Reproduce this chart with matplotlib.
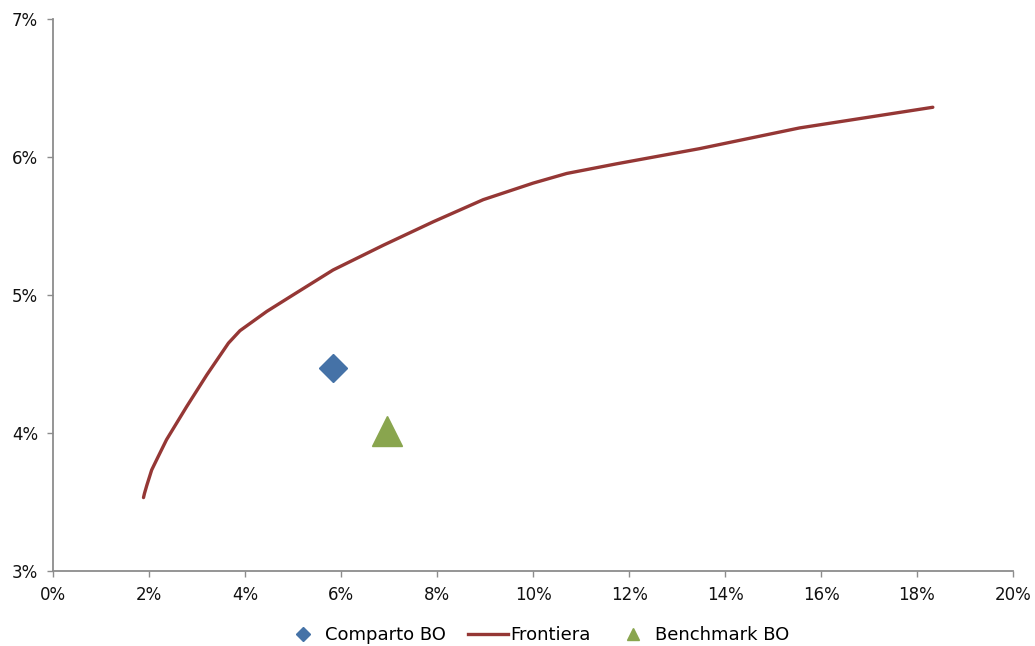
import matplotlib.pyplot as plt
from matplotlib.lines import Line2D
from matplotlib.ticker import FuncFormatter

# efficient frontier (volatility %, return %)
front_risk = [1.88, 1.90, 1.95, 2.05, 2.19, 2.36, 2.78, 3.20, 3.65, 3.89, 4.45,
              5.00, 5.83, 6.88, 7.92, 8.96, 10.00, 10.70, 11.74, 13.47, 15.55, 18.33]
front_ret = [3.53, 3.56, 3.62, 3.73, 3.83, 3.95, 4.19, 4.42, 4.65, 4.74, 4.88,
             5.00, 5.18, 5.36, 5.53, 5.69, 5.81, 5.88, 5.95, 6.06, 6.21, 6.36]

# portfolio and benchmark
comparto = (5.82, 4.47)
benchmark = (6.95, 4.01)

red = '#953735'
blue = '#4572A7'
green = '#89A54E'
grey = '#8c8c8c'

plt.rcParams['font.family'] = ['DejaVu Sans']

fig = plt.figure(figsize=(10.35, 6.46), dpi=100)
ax = fig.add_axes([0.0515, 0.1166, 0.9272, 0.854])

ax.plot(front_risk, front_ret, color=red, lw=2.4, solid_capstyle='round',
        solid_joinstyle='round')
ax.plot(*comparto, marker='D', ms=14.5, color=blue, ls='none')
ax.plot(*benchmark, marker='^', ms=21, color=green, ls='none')

ax.set_xlim(0, 20)
ax.set_ylim(3, 7)
ax.set_xticks(range(0, 21, 2))
ax.set_yticks(range(3, 8))
ax.xaxis.set_major_formatter(FuncFormatter(lambda v, p: f'{v:.0f}%'))
ax.yaxis.set_major_formatter(FuncFormatter(lambda v, p: f'{v:.0f}%'))

for s in ['top', 'right']:
    ax.spines[s].set_visible(False)
for s in ['left', 'bottom']:
    ax.spines[s].set_color(grey)
    ax.spines[s].set_linewidth(1.3)
ax.tick_params(axis='both', colors=grey, labelcolor='#111111', labelsize=12,
               length=4, width=1, direction='out')
ax.tick_params(axis='x', pad=7)
ax.tick_params(axis='y', pad=7)

handles = [
    Line2D([], [], marker='D', ms=7, color=blue, ls='none', label='Comparto BO'),
    Line2D([], [], color=red, lw=2.4, label='Frontiera'),
    Line2D([], [], marker='^', ms=9, color=green, ls='none', label='Benchmark BO'),
]
fig.legend(handles=handles, loc='lower center', bbox_to_anchor=(0.518, -0.022),
           ncol=3, frameon=False, fontsize=13, handlelength=2.2,
           handletextpad=0.1, columnspacing=1.27)

fig.savefig('out.png', dpi=100)
